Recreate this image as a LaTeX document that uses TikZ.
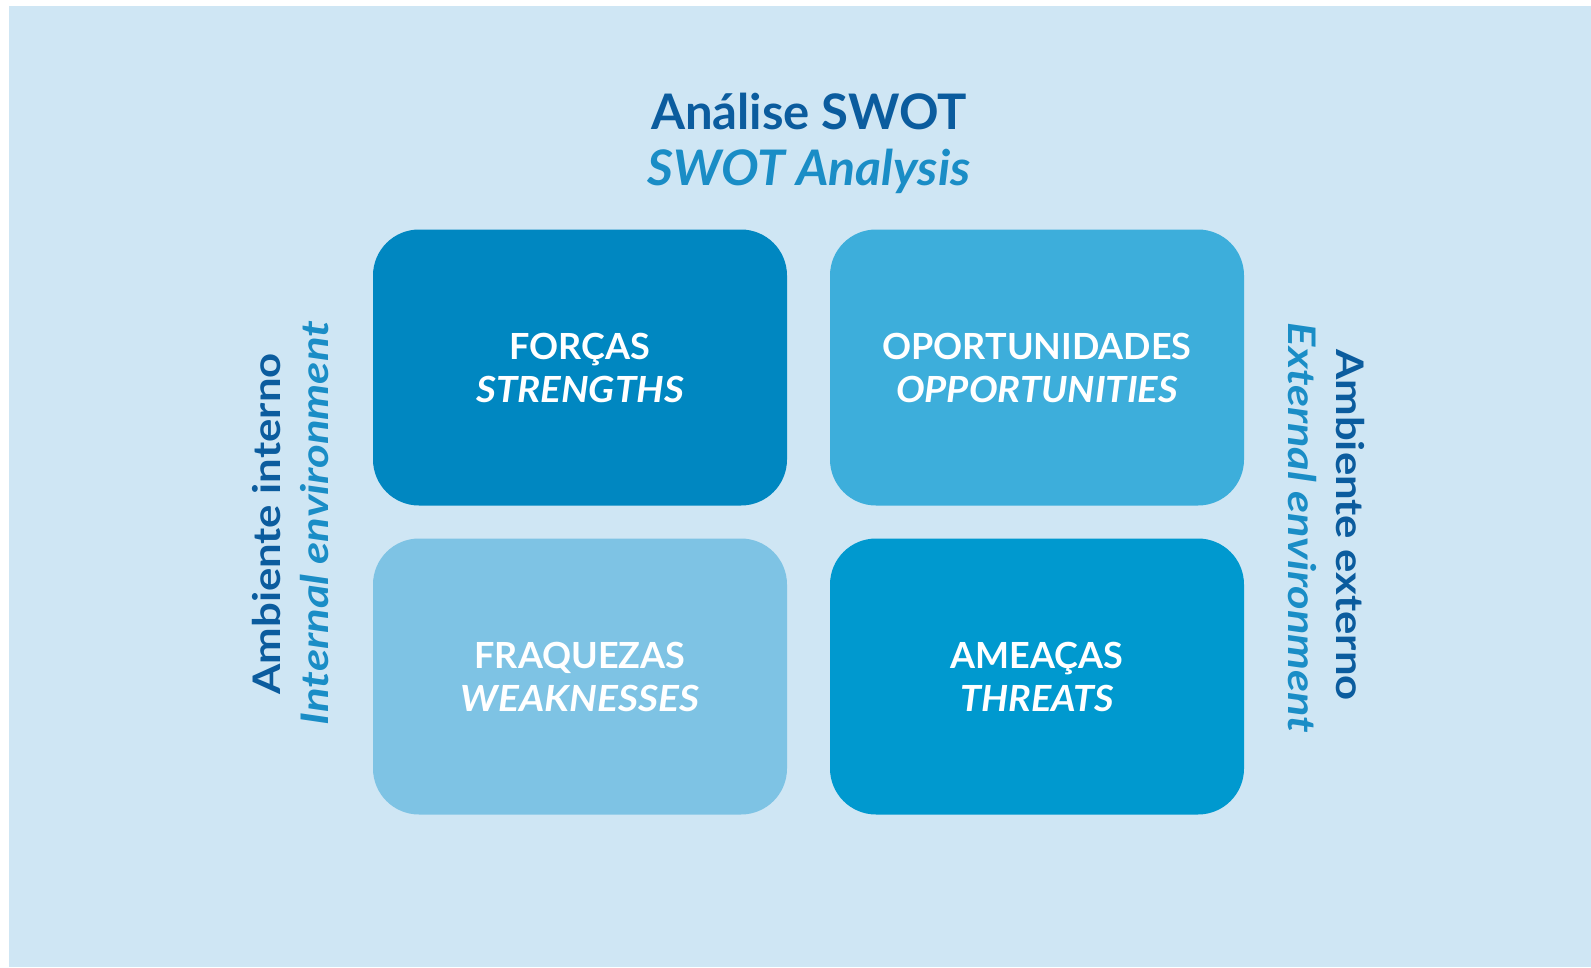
\documentclass[tikz,border=0pt]{standalone}
\usepackage{graphicx}
\usepackage{fontspec}
\setmainfont{Lato}
\definecolor{bgblue}{HTML}{CFE6F4}
\definecolor{darktxt}{HTML}{0B5C9E}
\definecolor{lighttxt}{HTML}{1A8DC6}
\definecolor{cS}{HTML}{0087C1}
\definecolor{cO}{HTML}{3DAEDB}
\definecolor{cW}{HTML}{7EC3E4}
\definecolor{cT}{HTML}{0099CF}
\newcommand\wideit[2]{\scalebox{#1}[1]{#2}}
\begin{document}
\begin{tikzpicture}[x=1pt,y=-1pt,
  quad/.style={rounded corners=46pt, minimum width=414pt, minimum height=276pt,
    inner sep=0pt, text=white, align=center,
    font=\fontsize{36}{43}\selectfont\bfseries},
  ttl/.style={font=\fontsize{49}{58}\selectfont\bfseries},
  side/.style={font=\fontsize{38}{43}\selectfont\bfseries}]
\useasboundingbox (0,0) rectangle (1591,967);
\fill[white] (0,0) rectangle (1591,967);
\fill[bgblue] (9,6) rectangle (1591,967);
\node[ttl, text=darktxt] (t1) at (809,111) {Análise SWOT};
\node[ttl, text=lighttxt] (t2) at (809,171) {\itshape\wideit{1.02}{SWOT Analysis}};
\node[quad, fill=cS] (S) at (580,367.5) {FORÇAS\\\itshape\wideit{1.07}{STRENGTHS}};
\node[quad, fill=cO] (O) at (1037,367.5) {OPORTUNIDADES\\\itshape\wideit{1.06}{OPPORTUNITIES}};
\node[quad, fill=cW] (W) at (580,676.5) {FRAQUEZAS\\\itshape\wideit{1.08}{WEAKNESSES}};
\node[quad, fill=cT] (T) at (1037,676.5) {AMEAÇAS\\\itshape\wideit{1.05}{THREATS}};
\node[side, text=darktxt, rotate=90] (li) at (267,524) {\wideit{1.15}{Ambiente interno}};
\node[side, text=lighttxt, rotate=90] (le) at (315,523) {\itshape\wideit{1.2}{Internal environment}};
\node[side, text=darktxt, rotate=-90] (re) at (1350,525) {\wideit{1.15}{Ambiente externo}};
\node[side, text=lighttxt, rotate=-90] (ri) at (1302,528) {\itshape\wideit{1.19}{External environment}};
\end{tikzpicture}
\end{document}
